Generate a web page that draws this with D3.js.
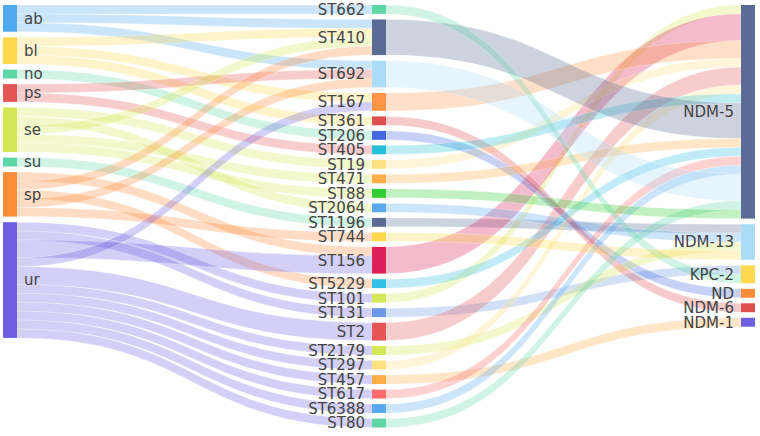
<!DOCTYPE html>
<html><head><meta charset="utf-8">
<script src="https://cdn.jsdelivr.net/npm/d3@7"></script>
<style>html,body{margin:0;padding:0;background:#fff;} svg{display:block;}</style>
</head><body><svg id="chart" width="760" height="436"></svg>
<script>
// ---- data ----
const specimens = ["ab","bl","no","ps","se","su","sp","ur"];
const specimenColors = ["#50a8ef","#ffd84d","#5fd6a5","#e45656","#d4e857","#5fd6a5","#ff8c38","#6c5fe0"];
const sequenceTypes = ["ST662","ST410","ST692","ST167","ST361","ST206","ST405","ST19","ST471","ST88","ST2064","ST1196","ST744","ST156","ST5229","ST101","ST131","ST2","ST2179","ST297","ST457","ST617","ST6388","ST80"];
const sequenceTypeColors = ["#5fd6a5","#5a6b95","#aadcf7","#ff9447","#e04f4f","#4168df","#26bfd8","#ffe184","#ffad47","#32cd32","#5aa9f0","#5a6b95","#ffd84d","#dc1f56","#32bfe6","#d4e857","#6a97e6","#e45656","#d4e857","#ffe184","#ffad47","#ff6b6b","#55aaf0","#5fd6a5"];
const genes = ["NDM-5","NDM-13","KPC-2","ND","NDM-6","NDM-1"];
const geneColors = ["#5a6b95","#aadcf7","#ffd84d","#ff8c38","#e04f4f","#6c5fe0"];

// specimen -> sequence type flows
const specimenToST = [
  ["ab","ST662",1],["ab","ST410",1],["ab","ST692",1],
  ["bl","ST410",1],["bl","ST167",1],["bl","ST361",1],
  ["no","ST206",1],
  ["ps","ST692",1],["ps","ST405",1],
  ["se","ST19",1],["se","ST2064",1],["se","ST410",1],["se","ST471",1],["se","ST88",1],
  ["su","ST1196",1],
  ["sp","ST156",1],["sp","ST410",1],["sp","ST5229",1],["sp","ST692",1],["sp","ST744",1],
  ["ur","ST101",1],["ur","ST131",1],["ur","ST156",2],["ur","ST167",1],["ur","ST2",2],["ur","ST2179",1],
  ["ur","ST297",1],["ur","ST457",1],["ur","ST617",1],["ur","ST6388",1],["ur","ST80",1]
];
// sequence type -> gene flows
const stToGene = [
  ["ST101","NDM-5",1],["ST1196","NDM-13",1],["ST131","KPC-2",1],["ST156","NDM-5",3],["ST167","NDM-5",2],
  ["ST19","NDM-5",1],["ST2","NDM-5",2],["ST2064","NDM-13",1],["ST206","ND",1],["ST2179","NDM-13",1],
  ["ST297","NDM-5",1],["ST361","NDM-6",1],["ST405","NDM-5",1],["ST410","NDM-5",4],["ST457","NDM-1",1],
  ["ST471","NDM-5",1],["ST5229","NDM-5",1],["ST617","NDM-5",1],["ST6388","NDM-5",1],["ST662","KPC-2",1],
  ["ST692","NDM-5",3],["ST744","NDM-13",1],["ST80","NDM-5",1],["ST88","NDM-5",1]
];

// ---- layout ----
const columns = [specimens, sequenceTypes, genes];
const columnColors = [specimenColors, sequenceTypeColors, geneColors];
const nodes = new Map();
columns.forEach((names, c) => names.forEach((name, i) =>
  nodes.set(name, {name, col: c, color: columnColors[c][i], inLinks: [], outLinks: []})));
const links = specimenToST.concat(stToGene).map(([s, t, v]) => ({source: nodes.get(s), target: nodes.get(t), value: v}));
links.forEach(l => { l.source.outLinks.push(l); l.target.inLinks.push(l); });
nodes.forEach(n => n.value = Math.max(d3.sum(n.inLinks, l => l.value), d3.sum(n.outLinks, l => l.value)));

const nodePad = 5.6, topY = 5, bottomY = 427.5, nodeWidth = 14;
const ky = d3.min(columns, names => (bottomY - topY - (names.length - 1) * nodePad) / d3.sum(names, n => nodes.get(n).value));
const yv = d3.scaleLinear().domain([0, 1]).range([0, ky]);
const xc = d3.scaleLinear().domain([0, 2]).range([3, 741]);

columns.forEach(names => {
  let y0 = topY;
  names.forEach(nm => {
    const n = nodes.get(nm);
    n.x0 = xc(n.col); n.x1 = n.x0 + nodeWidth;
    n.y0 = y0; n.y1 = y0 + yv(n.value);
    y0 = n.y1 + nodePad;
  });
});
nodes.forEach(n => {
  let sy = n.y0;
  n.outLinks.forEach(l => { l.sy0 = sy; sy += yv(l.value); l.sy1 = sy; });
  let ty = n.y0;
  n.inLinks.forEach(l => { l.ty0 = ty; ty += yv(l.value); l.ty1 = ty; });
});

function band(l) {
  const x0 = l.source.x1, x1 = l.target.x0, xm = (x0 + x1) / 2;
  const p = d3.path();
  p.moveTo(x0, l.sy0);
  p.bezierCurveTo(xm, l.sy0, xm, l.ty0, x1, l.ty0);
  p.lineTo(x1, l.ty1);
  p.bezierCurveTo(xm, l.ty1, xm, l.sy1, x0, l.sy1);
  p.closePath();
  return p.toString();
}

const svg = d3.select("#chart");
svg.append("g").selectAll("path").data(links).join("path")
  .attr("d", band)
  .attr("fill", d => d.source.color)
  .attr("fill-opacity", 0.3)
  .attr("stroke", "#fff")
  .attr("stroke-opacity", 0.5)
  .attr("stroke-width", 0.5);

const nodeList = Array.from(nodes.values());
svg.append("g").selectAll("rect").data(nodeList).join("rect")
  .attr("x", d => d.x0).attr("y", d => d.y0)
  .attr("width", nodeWidth).attr("height", d => d.y1 - d.y0)
  .attr("fill", d => d.color);

svg.append("g").selectAll("text").data(nodeList).join("text")
  .attr("x", d => d.col === 0 ? d.x1 + 7 : d.x0 - 7)
  .attr("y", d => (d.y0 + d.y1) / 2)
  .attr("dy", "0.36em")
  .attr("text-anchor", d => d.col === 0 ? "start" : "end")
  .attr("font-family", "'DejaVu Sans', sans-serif")
  .attr("font-size", 15)
  .attr("fill", "#444")
  .text(d => d.name);
</script>
</body></html>
